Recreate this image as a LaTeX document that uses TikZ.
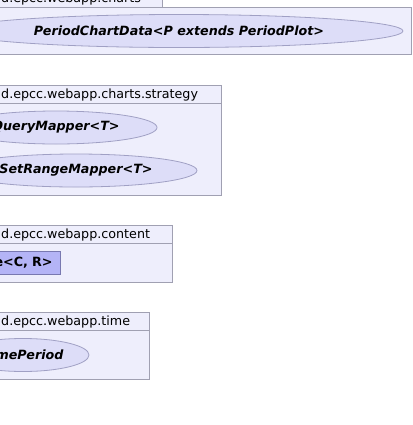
\documentclass[tikz,border=0pt]{standalone}
\usepackage{fontspec}
\setmainfont{DejaVu Sans}
\usepackage{tikz}
\usetikzlibrary{shapes.geometric}

\definecolor{pkgfill}{RGB}{238,238,252}
\definecolor{pkgline}{RGB}{160,160,178}
\definecolor{ifacefill}{RGB}{221,221,248}
\definecolor{ifaceline}{RGB}{160,160,196}
\definecolor{clsfill}{RGB}{180,180,246}
\definecolor{clsline}{RGB}{120,120,176}

\tikzset{
  pkg/.style={draw=pkgline,fill=pkgfill,line width=0.8bp},
  pkgname/.style={anchor=base west,inner sep=0pt,font=\fontsize{12.7bp}{15bp}\selectfont},
  iface/.style={ellipse,draw=ifaceline,fill=ifacefill,line width=0.8bp,inner sep=0pt,
    minimum height=33bp,font=\fontsize{12.7bp}{15bp}\selectfont\bfseries\itshape},
  cls/.style={rectangle,draw=clsline,fill=clsfill,line width=0.8bp,inner xsep=8bp,
    minimum height=23bp,text width=80bp,align=right,font=\fontsize{12.7bp}{15bp}\selectfont\bfseries}
}

\begin{document}
\begin{tikzpicture}[x=1bp,y=-1bp]
      \useasboundingbox (0,0) rectangle (413,425);
      \clip (0,0) rectangle (413,425);
      % charts
      \draw[pkg] (-10,-11) rectangle (162,7);
      \draw[pkg] (-10,7) rectangle (411,54);
      \node[pkgname] (charts) at (1,2.5) {d.epcc.webapp.charts};
      \node[iface,minimum width=448bp] (chartdata) at (179,31) {PeriodChartData<P extends PeriodPlot>};
      % strategy
      \draw[pkg] (-10,85) rectangle (221.5,103);
      \draw[pkg] (-10,103) rectangle (221.5,195);
      \node[pkgname] (strategy) at (1,98.5) {d.epcc.webapp.charts.strategy};
      \node[iface,minimum width=202bp] (querymapper) at (56,127.5) {QueryMapper<T>};
      \node[iface,minimum width=242bp] (rangemapper) at (76,170.5) {SetRangeMapper<T>};
      % content
      \draw[pkg] (-10,225) rectangle (172,243);
      \draw[pkg] (-10,243) rectangle (172,282);
      \node[pkgname] (content) at (1,238) {d.epcc.webapp.content};
      \node[cls,anchor=east] (table) at (61,262.5) {e<C, R>};
      % time
      \draw[pkg] (-10,312) rectangle (149,330);
      \draw[pkg] (-10,330) rectangle (149,379);
      \node[pkgname] (time) at (1,325.5) {d.epcc.webapp.time};
      \node[iface,minimum width=132bp] (timeperiod) at (23,355) {TimePeriod};
\end{tikzpicture}
\end{document}
